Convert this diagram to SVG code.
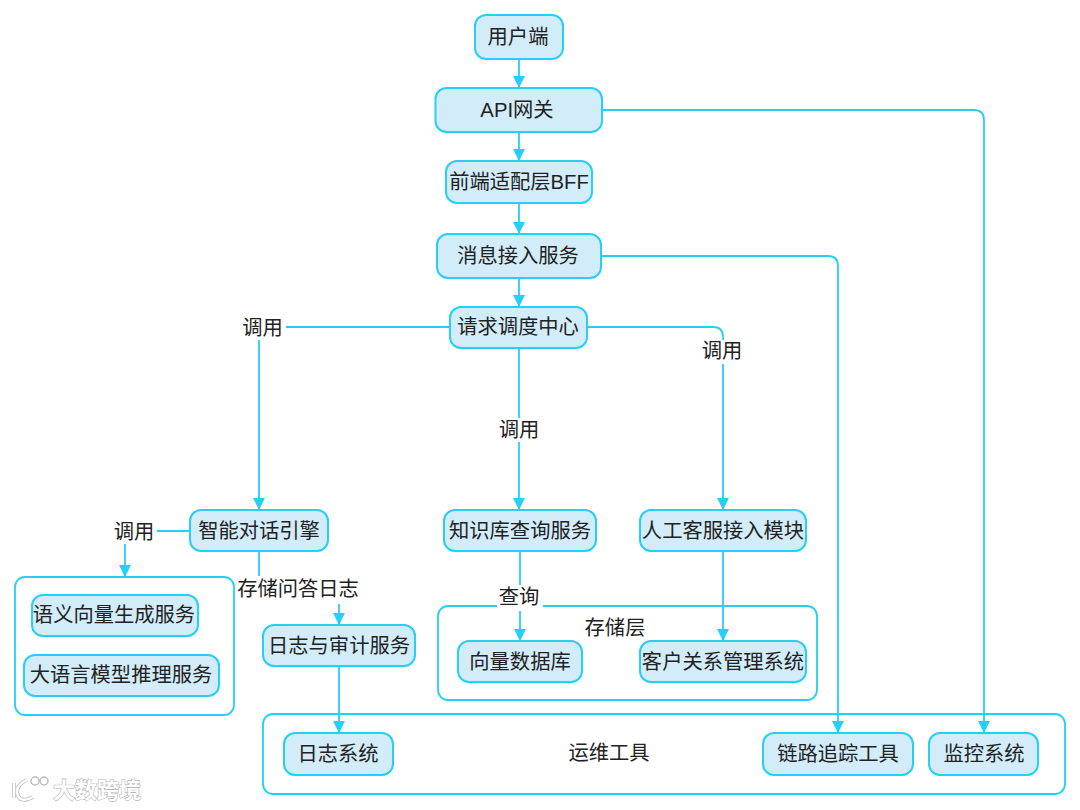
<svg xmlns="http://www.w3.org/2000/svg" width="1080" height="810" viewBox="0 0 1080 810">
<style>
text{font-family:"Liberation Sans","Noto Sans CJK SC",sans-serif;font-size:20.3px;fill:#222;text-anchor:middle;dominant-baseline:central}
.n{fill:#d3ecfa;stroke:#25cff9;stroke-width:2}
.g{fill:#fff;stroke:#25cff9;stroke-width:1.8}
.e{fill:none;stroke:#25cff9;stroke-width:1.8;marker-end:url(#a)}
.l{fill:#fff;stroke:none}
.wm{fill:#fff;stroke:#b5b5b5;stroke-width:1.2;paint-order:stroke;font-size:22px;font-weight:700;text-anchor:start}
</style>
<defs><marker id="a" markerWidth="13" markerHeight="13" refX="12" refY="6" orient="auto" markerUnits="userSpaceOnUse"><path d="M0 0L12 6L0 12Z" fill="#25cff9"/></marker></defs>
<rect width="1080" height="810" fill="#fff"/>
<g id="groups">
<g id="group-left"><rect class="g" x="15" y="577" width="219" height="138" rx="10"/></g>
<g id="group-storage"><rect class="g" x="438" y="606" width="379" height="94" rx="10"/><text x="615" y="627.5">存储层</text></g>
<g id="group-ops"><rect class="g" x="263" y="714" width="802" height="80" rx="10"/><text x="609" y="752.5">运维工具</text></g>
</g>
<g id="connectors">
<path class="e" d="M519 59V88"/>
<path class="e" d="M519 132V161"/>
<path class="e" d="M519 203V234"/>
<path class="e" d="M519 278V307"/>
<path class="e" d="M602 110H974Q984 110 984 120V733"/>
<path class="e" d="M601 256H828Q838 256 838 266V733"/>
<path class="e" d="M450 327H269Q259 327 259 337V510"/>
<path class="e" d="M519 348V510"/>
<path class="e" d="M587 327H713Q723 327 723 337V510"/>
<path class="e" d="M190 531H135Q125 531 125 541V577"/>
<path class="e" d="M259 551V592Q259 598 265 598H333Q339 598 339 604V625"/>
<path class="e" d="M520 551V641"/>
<path class="e" d="M723 551V641"/>
<path class="e" d="M339 666V733"/>
</g>
<g id="edge-labels">
<rect class="l" x="240" y="316" width="46" height="24"/><text x="262.500" y="327.500">调用</text>
<rect class="l" x="496" y="418" width="46" height="24"/><text x="519" y="429.500">调用</text>
<rect class="l" x="699" y="340" width="46" height="24"/><text x="722" y="350.500">调用</text>
<rect class="l" x="111" y="520" width="46" height="24"/><text x="134" y="531.500">调用</text>
<rect class="l" x="236" y="576" width="124" height="28"/><text x="298" y="588.500">存储问答日志</text>
<rect class="l" x="497" y="585" width="46" height="26"/><text x="519" y="596.500">查询</text>
</g>
<g id="n1"><rect class="n" x="475" y="15" width="88" height="44" rx="11"/><text x="518" y="36.500">用户端</text></g>
<g id="n2"><rect class="n" x="435.500" y="88" width="166.500" height="44" rx="11"/><text x="517" y="109.500">API网关</text></g>
<g id="n3"><rect class="n" x="446" y="161" width="146" height="42" rx="11"/><text x="519" y="181.500">前端适配层BFF</text></g>
<g id="n4"><rect class="n" x="437" y="234" width="164" height="44" rx="11"/><text x="518" y="255.500">消息接入服务</text></g>
<g id="n5"><rect class="n" x="450" y="307" width="137" height="41" rx="11"/><text x="518" y="326.500">请求调度中心</text></g>
<g id="n6"><rect class="n" x="190" y="510" width="138" height="41" rx="11"/><text x="259" y="530.500">智能对话引擎</text></g>
<g id="n7"><rect class="n" x="444" y="510" width="152" height="41" rx="11"/><text x="520" y="530.500">知识库查询服务</text></g>
<g id="n8"><rect class="n" x="640" y="510" width="166" height="41" rx="11"/><text x="723" y="530.500">人工客服接入模块</text></g>
<g id="n9"><rect class="n" x="32" y="595" width="166" height="41" rx="11"/><text x="114" y="614.500">语义向量生成服务</text></g>
<g id="n10"><rect class="n" x="24" y="655" width="195" height="41" rx="11"/><text x="121" y="674.500">大语言模型推理服务</text></g>
<g id="n11"><rect class="n" x="263" y="625" width="152" height="41" rx="11"/><text x="339" y="645.500">日志与审计服务</text></g>
<g id="n12"><rect class="n" x="458" y="641" width="124" height="41" rx="11"/><text x="520" y="661.500">向量数据库</text></g>
<g id="n13"><rect class="n" x="640" y="641" width="166" height="41" rx="11"/><text x="723" y="661.500">客户关系管理系统</text></g>
<g id="n14"><rect class="n" x="284" y="733" width="109" height="42" rx="11"/><text x="338" y="753.500">日志系统</text></g>
<g id="n15"><rect class="n" x="763" y="733" width="150" height="42" rx="11"/><text x="838" y="753.500">链路追踪工具</text></g>
<g id="n16"><rect class="n" x="929" y="733" width="109" height="42" rx="11"/><text x="984" y="753.500">监控系统</text></g>
<g id="watermark">
<path d="M14 783V798M27 780Q14 786 18 796Q22 803 33 797" fill="none" stroke="#c0c0c0" stroke-width="4"/>
<path d="M14 783V798M27 780Q14 786 18 796Q22 803 33 797" fill="none" stroke="#fff" stroke-width="2.4"/>
<circle cx="35" cy="781" r="4" fill="#fff" stroke="#bdbdbd" stroke-width="1.5"/><circle cx="44" cy="781" r="4" fill="#fff" stroke="#bdbdbd" stroke-width="1.5"/>
<text class="wm" x="53" y="790">大数跨境</text>
</g>
</svg>
